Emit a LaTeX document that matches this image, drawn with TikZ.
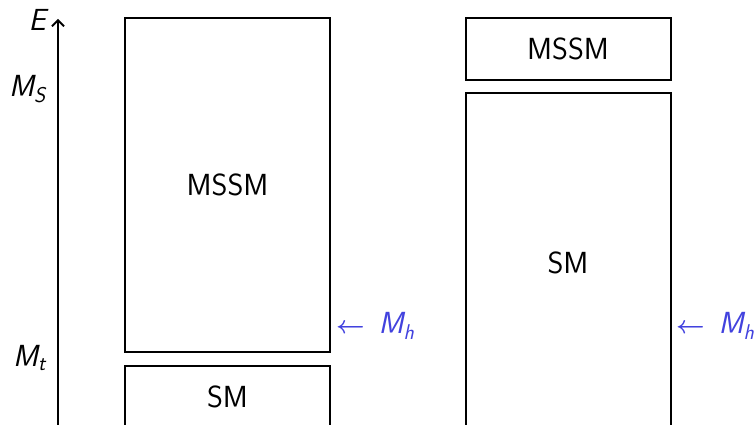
\documentclass[tikz,border=0pt]{standalone}
\usepackage{amsmath}
\usepackage{fontspec}
\usetikzlibrary{arrows.meta}
\definecolor{mhblue}{RGB}{66,66,222}
\newcommand{\sfi}[1]{\text{\sffamily\itshape #1}}
\begin{document}
\begin{tikzpicture}[x=1pt,y=1pt,
  every node/.style={font=\fontsize{30.5}{36}\selectfont\sffamily},
  block/.style={draw, line width=2pt, minimum width=205pt, inner sep=0pt},
  mhlabel/.style={text=mhblue, anchor=west, inner sep=0pt},
  axlabel/.style={anchor=east, inner sep=0pt}]
\useasboundingbox (0,0) rectangle (754,425);
\clip (0,0) rectangle (754,425);
% axis
\coordinate (a0) at (58,-10);
\coordinate (a1) at (58,406);
\draw[line width=2pt, -{Straight Barb[length=6pt,width=12pt,line width=1.8pt]}] (a0) -- (a1);
\node[axlabel] (E) at (46,405) {$\sfi{E}$};
\node[axlabel] (MS) at (46,336) {$\sfi{M}_{\sfi{S}}$};
\node[axlabel] (Mt) at (46,67) {$\sfi{M}_{\sfi{t}}$};
% left column
\node[block, minimum height=334pt] (lmssm) at (227.5,240) {MSSM};
\node[block, minimum height=62pt] (lsm) at (227.5,28) {SM};
% right column
\node[block, minimum height=62pt] (rmssm) at (568,376) {MSSM};
\node[block, minimum height=340pt] (rsm) at (568,162) {SM};
% M_h labels
\node[mhlabel] (lmh) at (336,99) {$\boldsymbol{\leftarrow}\;\sfi{M}_{\sfi{h}}$};
\node[mhlabel] (rmh) at (676,99) {$\boldsymbol{\leftarrow}\;\sfi{M}_{\sfi{h}}$};
\end{tikzpicture}
\end{document}
